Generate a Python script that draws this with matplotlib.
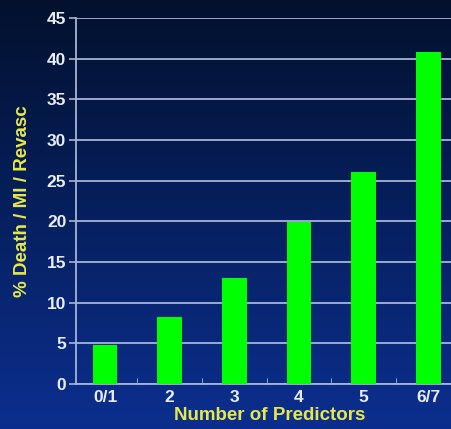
import matplotlib

matplotlib.use("Agg")
import matplotlib.pyplot as plt
import numpy as np
from matplotlib.colors import LinearSegmentedColormap

categories = ["0/1", "2", "3", "4", "5", "6/7"]
event_rate = [4.8, 8.2, 13.0, 19.9, 26.1, 40.8]
y_ticks = [0, 5, 10, 15, 20, 25, 30, 35, 40, 45]

plt.rcParams["font.family"] = ["Liberation Sans", "DejaVu Sans"]
plt.rcParams["font.weight"] = "bold"

fig = plt.figure(figsize=(4.51, 4.29), dpi=100)

# background gradient, dark navy at top to brighter blue at bottom
bg = fig.add_axes([0, 0, 1, 1], zorder=0)
cmap = LinearSegmentedColormap.from_list("bg", ["#03112e", "#06205f", "#0c2f8f"])
grad = np.linspace(0, 1, 256).reshape(-1, 1)
bg.imshow(grad, aspect="auto", cmap=cmap, extent=[0, 1, 0, 1], origin="upper")
bg.axis("off")

ax = fig.add_axes([0.1685, 0.105, 0.86, 0.853], zorder=1)
ax.patch.set_alpha(0)
x = np.arange(len(categories))
ax.bar(x, event_rate, width=0.38, color="#00ff00", zorder=3)

ax.set_xlim(-0.45, 5.55)
ax.set_ylim(0, 45)
ax.set_yticks(y_ticks)
ax.yaxis.grid(True, color="#a8b4d6", linewidth=1.3, zorder=1)
ax.set_xticks(x)
ax.set_xticklabels(categories)
ax.set_xticks(x[:-1] + 0.5, minor=True)
ax.tick_params(axis="x", which="major", length=0, pad=4, labelsize=12.5)
ax.tick_params(axis="x", which="minor", length=4, direction="in", color="#a8b4d6")
ax.tick_params(axis="y", length=5, width=1.2, color="#a8b4d6", labelsize=12.5, pad=2)
for lab in ax.get_xticklabels() + ax.get_yticklabels():
    lab.set_color("#e8ecf4")

for side in ["top", "right"]:
    ax.spines[side].set_visible(False)
for side in ["left", "bottom"]:
    ax.spines[side].set_color("#a8b4d6")
    ax.spines[side].set_linewidth(1.3)

ax.set_xlabel("Number of Predictors", color="#e6e84a", fontsize=13.5, fontweight="bold", labelpad=2)
ax.set_ylabel("% Death / MI / Revasc", color="#e6e84a", fontsize=13.5, fontweight="bold", labelpad=11)

fig.savefig("out.png", dpi=100)
